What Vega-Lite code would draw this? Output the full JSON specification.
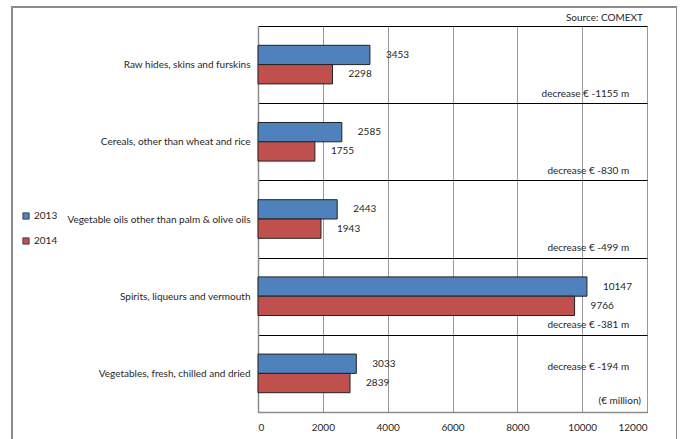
{
  "$schema": "https://vega.github.io/schema/vega-lite/v6.json",
  "autosize": "none",
  "padding": {"left": 12, "top": 7, "right": 0, "bottom": 0},
  "width": 665,
  "height": 440,
  "title": {"text": "Source: COMEXT", "anchor": "end", "frame": "group", "offset": -21, "dx": -34, "fontSize": 10, "fontWeight": "normal", "color": "#262626"},
  "config": {
    "font": "Lato",
    "view": {"stroke": "#8c8c8c", "strokeWidth": 2}
  },
  "datasets": {
    "bars": [
      {"category": "Raw hides, skins and furskins", "year": "2013", "value": 3453},
      {"category": "Raw hides, skins and furskins", "year": "2014", "value": 2298},
      {"category": "Cereals, other than wheat and rice", "year": "2013", "value": 2585},
      {"category": "Cereals, other than wheat and rice", "year": "2014", "value": 1755},
      {"category": "Vegetable oils other than palm & olive oils", "year": "2013", "value": 2443},
      {"category": "Vegetable oils other than palm & olive oils", "year": "2014", "value": 1943},
      {"category": "Spirits, liqueurs and vermouth", "year": "2013", "value": 10147},
      {"category": "Spirits, liqueurs and vermouth", "year": "2014", "value": 9766},
      {"category": "Vegetables, fresh, chilled and dried", "year": "2013", "value": 3033},
      {"category": "Vegetables, fresh, chilled and dried", "year": "2014", "value": 2839}
    ],
    "notes": [
      {"category": "Raw hides, skins and furskins", "label": "decrease € -1155 m"},
      {"category": "Cereals, other than wheat and rice", "label": "decrease € -830 m"},
      {"category": "Vegetable oils other than palm & olive oils", "label": "decrease € -499 m"},
      {"category": "Spirits, liqueurs and vermouth", "label": "decrease € -381 m"},
      {"category": "Vegetables, fresh, chilled and dried", "label": "decrease € -194 m"}
    ]
  },
  "resolve": {"axis": {"x": "independent"}},
  "layer": [
    {
      "data": {"name": "bars"},
      "mark": {"type": "bar", "stroke": "#222222", "strokeWidth": 1},
      "encoding": {
        "y": {
          "field": "category", "type": "nominal", "sort": null,
          "scale": {
            "domain": ["Raw hides, skins and furskins", "Cereals, other than wheat and rice", "Vegetable oils other than palm & olive oils", "Spirits, liqueurs and vermouth", "Vegetables, fresh, chilled and dried"],
            "range": [19, 405], "paddingInner": 0, "paddingOuter": 0
          },
          "axis": {"title": null, "offset": -246, "domainColor": "#8c8c8c", "domainWidth": 1.5, "ticks": false, "labelPadding": 8, "labelFontSize": 10, "labelColor": "#262626", "labelLimit": 300, "grid": true, "gridColor": "#000000", "gridWidth": 1.2, "tickBand": "extent"}
        },
        "yOffset": {"field": "year", "type": "nominal", "scale": {"domain": ["2013", "2014"], "paddingInner": 0, "paddingOuter": 1.05}},
        "x": {
          "field": "value", "type": "quantitative",
          "scale": {"domain": [0, 12000], "range": [246, 635], "nice": false, "zero": true},
          "axis": {"orient": "top", "title": null, "values": [0, 2000, 4000, 6000, 8000, 10000, 12000], "grid": true, "gridColor": "#999999", "gridWidth": 1, "labels": false, "domain": false, "ticks": false}
        },
        "color": {
          "field": "year", "type": "nominal",
          "scale": {"domain": ["2013", "2014"], "range": ["#4F81BD", "#C0504D"]},
          "legend": {"title": null, "orient": "none", "legendX": 9, "legendY": 204, "symbolType": "square", "symbolSize": 40, "symbolStrokeColor": "#333333", "symbolStrokeWidth": 0.8, "labelFontSize": 10, "labelColor": "#262626", "rowPadding": 15, "labelOffset": 3}
        }
      }
    },
    {
      "data": {"name": "bars"},
      "mark": {"type": "text", "align": "left", "baseline": "middle", "dx": 16, "fontSize": 10, "color": "#262626"},
      "encoding": {
        "y": {"field": "category", "type": "nominal", "sort": null},
        "yOffset": {"field": "year", "type": "nominal"},
        "x": {
          "field": "value", "type": "quantitative",
          "axis": {"orient": "bottom", "title": null, "values": [0, 2000, 4000, 6000, 8000, 10000, 12000], "format": "d", "offset": -35, "grid": false, "domainColor": "#8c8c8c", "domainWidth": 1.5, "ticks": false, "labelPadding": 10, "labelFontSize": 10, "labelColor": "#262626"}
        },
        "text": {"field": "value", "type": "quantitative", "format": "d"}
      }
    },
    {
      "data": {"name": "notes"},
      "transform": [{"filter": "datum.category !== 'Vegetables, fresh, chilled and dried'"}],
      "mark": {"type": "text", "align": "right", "baseline": "middle", "dy": 29, "fontSize": 10, "color": "#262626"},
      "encoding": {
        "y": {"field": "category", "type": "nominal", "sort": null},
        "x": {"datum": 11450, "type": "quantitative", "axis": null},
        "text": {"field": "label", "type": "nominal"}
      }
    },
    {
      "data": {"name": "notes"},
      "transform": [{"filter": "datum.category === 'Vegetables, fresh, chilled and dried'"}],
      "mark": {"type": "text", "align": "right", "baseline": "middle", "dy": -6, "fontSize": 10, "color": "#262626"},
      "encoding": {
        "y": {"field": "category", "type": "nominal", "sort": null},
        "x": {"datum": 11450, "type": "quantitative", "axis": null},
        "text": {"field": "label", "type": "nominal"}
      }
    },
    {
      "data": {"values": [{"category": "Vegetables, fresh, chilled and dried", "label": "(€ million)"}]},
      "mark": {"type": "text", "align": "right", "baseline": "middle", "dy": 28, "fontSize": 10, "color": "#262626"},
      "encoding": {
        "y": {"field": "category", "type": "nominal", "sort": null},
        "x": {"datum": 11815, "type": "quantitative", "axis": null},
        "text": {"field": "label", "type": "nominal"}
      }
    }
  ]
}
